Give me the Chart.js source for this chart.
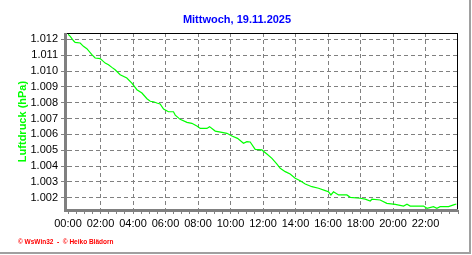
<!DOCTYPE html>
<html>
<head>
<meta charset="utf-8">
<title>Luftdruck</title>
<script src="https://cdn.jsdelivr.net/npm/chart.js@4.4.1/dist/chart.umd.min.js"></script>
<style>
  html, body { margin: 0; padding: 0; background: #fff; }
  #wrap { width: 472px; height: 255px; position: relative; }
</style>
</head>
<body>
<div id="wrap"><canvas id="chart" width="472" height="255"></canvas></div>
<script>
// Daten: Luftdruck in hPa, Zeit in Stunden
const hours = [0, 0.14, 0.34, 0.44, 0.75, 0.95, 1.16, 1.47, 1.67, 1.98, 2.29, 2.49, 2.70, 2.90, 3.21, 3.62, 3.93, 4.24, 4.55, 4.86,
  5.06, 5.26, 5.47, 5.67, 5.88, 6.18, 6.49, 6.60, 6.90, 7.32, 7.62, 7.93, 8.14, 8.55, 8.71, 9.06, 9.47, 9.78, 10.09, 10.43,
  10.80, 11.01, 11.21, 11.52, 11.93, 12.24, 12.55, 12.86, 13.06, 13.37, 13.67, 13.98, 14.29, 14.60, 15.01, 15.42, 15.83, 16.03, 16.18, 16.34,
  16.65, 17.16, 17.37, 17.98, 18.29, 18.60, 18.70, 19.21, 19.62, 20.14, 20.65, 20.86, 21.06, 21.88, 22.09, 22.49, 22.70, 22.90, 23.42, 23.73,
  23.90];
const pressure = [1012.33, 1012.19, 1011.91, 1011.81, 1011.77, 1011.56, 1011.41, 1011.03, 1010.82, 1010.78, 1010.50, 1010.40, 1010.23, 1010.08, 1009.77, 1009.56, 1009.24, 1008.82, 1008.61, 1008.25,
  1008.09, 1008.06, 1007.98, 1007.92, 1007.60, 1007.43, 1007.43, 1007.22, 1006.95, 1006.76, 1006.70, 1006.53, 1006.38, 1006.38, 1006.49, 1006.21, 1006.13, 1006.07, 1005.90, 1005.75,
  1005.44, 1005.54, 1005.52, 1005.06, 1005.02, 1004.76, 1004.49, 1004.13, 1003.86, 1003.65, 1003.50, 1003.23, 1003.08, 1002.87, 1002.70, 1002.60, 1002.45, 1002.38, 1002.18, 1002.38,
  1002.18, 1002.18, 1002.03, 1001.97, 1001.92, 1001.80, 1001.91, 1001.86, 1001.65, 1001.59, 1001.48, 1001.59, 1001.48, 1001.48, 1001.34, 1001.44, 1001.34, 1001.44, 1001.44, 1001.55,
  1001.61];

const yTickValues = [1002, 1003, 1004, 1005, 1006, 1007, 1008, 1009, 1010, 1011, 1012];
const yTickLabels = ["1.002", "1.003", "1.004", "1.005", "1.006", "1.007", "1.008", "1.009", "1.010", "1.011", "1.012"];
const xTickLabels = ["00:00", "02:00", "04:00", "06:00", "08:00", "10:00", "12:00", "14:00", "16:00", "18:00", "20:00", "22:00"];

const titleText = "Mittwoch, 19.11.2025";
const yTitle = "Luftdruck (hPa)";
const credits = "\u00a9 WsWin32  -  \u00a9 Heiko Blädorn";

const FONT = "'Liberation Sans', Arial, sans-serif";
const GRID = "#808080";

// Rahmen, Titel und Texte
const framePlugin = {
  id: "frame",
  afterDraw(chart) {
    const { ctx, chartArea: a } = chart;
    ctx.save();
    ctx.fillStyle = "#000";
    ctx.fillRect(a.left - 2, a.top, a.right - a.left + 2, 1);
    ctx.fillRect(a.right - 1, a.top, 1, a.bottom - a.top);
    ctx.fillStyle = GRID;
    ctx.fillRect(a.left - 4, a.top, 3, a.bottom - a.top + 2);
    ctx.fillRect(a.left - 4, a.bottom - 1, a.right - a.left + 4, 3);

    ctx.fillStyle = "#0000ff";
    ctx.font = "bold 11px " + FONT;
    ctx.textAlign = "center";
    ctx.textBaseline = "alphabetic";
    ctx.fillText(titleText, 237, 22.5);

    ctx.save();
    ctx.translate(23, (a.top + a.bottom) / 2);
    ctx.rotate(-Math.PI / 2);
    ctx.fillStyle = "#00ff00";
    ctx.textBaseline = "middle";
    ctx.fillText(yTitle, 0, 0);
    ctx.restore();

    ctx.fillStyle = "#ff0000";
    ctx.font = "bold 6.5px " + FONT;
    ctx.textAlign = "left";
    ctx.fillText(credits, 18, 243.5);

    ctx.fillStyle = "#a0a0a0";
    ctx.fillRect(469, 0, 2, 254);
    ctx.fillRect(0, 252, 471, 2);
    ctx.restore();
  }
};

new Chart(document.getElementById("chart"), {
  type: "line",
  data: {
    datasets: [{
      data: hours.map((h, i) => ({ x: h, y: pressure[i] })),
      borderColor: "#00ff00",
      borderWidth: 1.2,
      pointRadius: 0,
      tension: 0,
      fill: false
    }]
  },
  options: {
    responsive: false,
    animation: false,
    devicePixelRatio: 1,
    layout: { padding: { top: 33, right: 14, left: 0, bottom: 0 } },
    plugins: { legend: { display: false }, tooltip: { enabled: false }, title: { display: false } },
    scales: {
      x: {
        type: "linear",
        min: 0,
        max: 24,
        afterBuildTicks: s => {
          const t = [];
          for (let v = 0; v <= 24; v += 0.5) t.push({ value: v });
          s.ticks = t;
        },
        afterFit: s => { s.height = 45; },
        border: { display: false, dash: [4, 3] },
        grid: {
          color: c => (c.tick && c.tick.value % 2 === 0 && c.tick.value > 0 && c.tick.value < 24) ? GRID : "rgba(0,0,0,0)",
          tickColor: GRID,
          tickLength: 4,
          lineWidth: 1
        },
        ticks: {
          autoSkip: false,
          maxRotation: 0,
          padding: 3,
          color: "#000",
          font: { family: FONT, size: 11 },
          callback: v => (v % 2 === 0 && v < 24) ? xTickLabels[v / 2] : ""
        }
      },
      y: {
        min: 1001.23,
        max: 1012.4,
        afterBuildTicks: s => { s.ticks = yTickValues.map(v => ({ value: v })); },
        afterFit: s => { s.width = 68; },
        border: { display: false, dash: [4, 3] },
        grid: { color: GRID, tickColor: GRID, tickLength: 7, lineWidth: 1 },
        ticks: {
          padding: 3,
          color: "#000",
          font: { family: FONT, size: 11 },
          callback: v => yTickLabels[yTickValues.indexOf(v)]
        }
      }
    }
  },
  plugins: [framePlugin]
});
</script>
</body>
</html>
